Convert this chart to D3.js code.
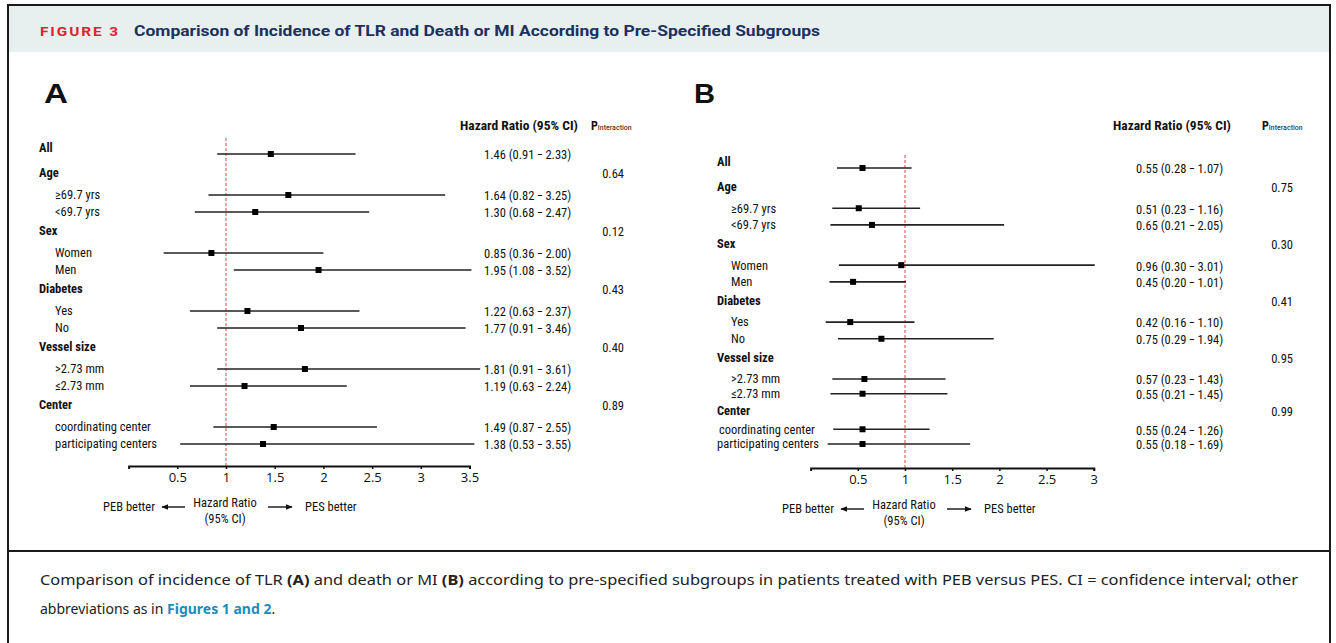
<!DOCTYPE html>
<html>
<head>
<meta charset="utf-8">
<script src="https://cdn.jsdelivr.net/npm/d3@7"></script>
<style>
  body { margin: 0; background: #fff; }
  svg { display: block; }
  .lbl { font-family: "Liberation Sans Narrow", "Roboto Condensed", "Open Sans", sans-serif; font-size: 12.5px; fill: #111; }
  .grp { font-weight: bold; }
  .est, .pv { font-size: 12.5px; }
  .hdr { font-size: 13.5px; font-weight: bold; }
  .axis text { font-family: "Liberation Sans Narrow", "Open Sans", sans-serif; font-size: 13px; fill: #111; }
</style>
</head>
<body>
<div id="chart"></div>
<script>
// Subgroup rows (same for both panels)
const rowLabels = ['All', 'Age', '\u226569.7 yrs', '<69.7 yrs', 'Sex', 'Women', 'Men', 'Diabetes', 'Yes', 'No',
  'Vessel size', '>2.73 mm', '\u22642.73 mm', 'Center', 'coordinating center', 'participating centers']
const rowIsGroup = [1, 1, 0, 0, 1, 0, 0, 1, 0, 0, 1, 0, 0, 1, 0, 0]

// Panel A: TLR
const hrA = [1.46, null, 1.64, 1.30, null, 0.85, 1.95, null, 1.22, 1.77, null, 1.81, 1.19, null, 1.49, 1.38]
const loA = [0.91, null, 0.82, 0.68, null, 0.36, 1.08, null, 0.63, 0.91, null, 0.91, 0.63, null, 0.87, 0.53]
const hiA = [2.33, null, 3.25, 2.47, null, 2.00, 3.52, null, 2.37, 3.46, null, 3.61, 2.24, null, 2.55, 3.55]
const pA = ['0.64', '0.12', '0.43', '0.40', '0.89']
const ticksA = [0.5, 1, 1.5, 2, 2.5, 3, 3.5]

// Panel B: death or MI
const hrB = [0.55, null, 0.51, 0.65, null, 0.96, 0.45, null, 0.42, 0.75, null, 0.57, 0.55, null, 0.55, 0.55]
const loB = [0.28, null, 0.23, 0.21, null, 0.30, 0.20, null, 0.16, 0.29, null, 0.23, 0.21, null, 0.24, 0.18]
const hiB = [1.07, null, 1.16, 2.05, null, 3.01, 1.01, null, 1.10, 1.94, null, 1.43, 1.45, null, 1.26, 1.69]
const pB = ['0.75', '0.30', '0.41', '0.95', '0.99']
const ticksB = [0.5, 1, 1.5, 2, 2.5, 3]

const W = 1336, H = 643
const f2 = d3.format('.2f')

const svg = d3.select('#chart').append('svg')
  .attr('width', W)
  .attr('height', H)

// arrow head
svg.append('defs').append('marker')
  .attr('id', 'head')
  .attr('viewBox', '0 0 10 10')
  .attr('refX', 9).attr('refY', 5)
  .attr('markerWidth', 5).attr('markerHeight', 5)
  .attr('orient', 'auto')
  .append('path').attr('d', 'M0,1L10,5L0,9Z').attr('fill', '#111')

// header band + frame
svg.append('rect').attr('x', 9).attr('y', 6).attr('width', 1320).attr('height', 46).attr('fill', '#e7f0ef')
svg.append('path')
  .attr('d', 'M8,643V5H1330V643')
  .attr('fill', 'none').attr('stroke', '#1a1a1a').attr('stroke-width', 2)
svg.append('line').attr('x1', 8).attr('x2', 1330).attr('y1', 551).attr('y2', 551)
  .attr('stroke', '#1a1a1a').attr('stroke-width', 2)

svg.append('text')
  .attr('x', 40).attr('y', 36)
  .attr('font-family', 'Roboto, sans-serif').attr('font-weight', 'bold')
  .attr('font-size', 13).attr('letter-spacing', 1.6).attr('fill', '#e21f2c')
  .attr('textLength', 80).attr('lengthAdjust', 'spacingAndGlyphs')
  .text('FIGURE 3')
svg.append('text')
  .attr('x', 134).attr('y', 36)
  .attr('font-family', 'Roboto, sans-serif').attr('font-weight', 'bold')
  .attr('font-size', 14.5).attr('fill', '#1b3160')
  .attr('textLength', 686).attr('lengthAdjust', 'spacingAndGlyphs')
  .text('Comparison of Incidence of TLR and Death or MI According to Pre-Specified Subgroups')

// caption
const cap1 = svg.append('text')
  .attr('x', 40).attr('y', 585)
  .attr('font-family', '"Noto Sans", sans-serif').attr('font-size', 14).attr('fill', '#222')
  .attr('textLength', 1258).attr('lengthAdjust', 'spacingAndGlyphs')
cap1.append('tspan').text('Comparison of incidence of TLR ')
cap1.append('tspan').attr('font-weight', 'bold').text('(A)')
cap1.append('tspan').text(' and death or MI ')
cap1.append('tspan').attr('font-weight', 'bold').text('(B)')
cap1.append('tspan').text(' according to pre-specified subgroups in patients treated with PEB versus PES. CI = confidence interval; other')
const cap2 = svg.append('text')
  .attr('x', 40).attr('y', 614)
  .attr('font-family', '"Noto Sans", sans-serif').attr('font-size', 14).attr('fill', '#222')
cap2.append('tspan').text('abbreviations as in ')
cap2.append('tspan').attr('font-weight', 'bold').attr('fill', '#1e8bbd').text('Figures 1 and 2')
cap2.append('tspan').text('.')

// cumulative row units: gap after a group header 22, between subrows 17, before a header 19
const rowUnits = []
rowLabels.forEach((d, i) => {
  if (i === 0) { rowUnits.push(0); return }
  const gap = rowIsGroup[i] ? 19 : (rowIsGroup[i - 1] ? 22 : 17)
  rowUnits.push(rowUnits[i - 1] + gap)
})

const panels = [
  { letter: 'A', lx: 44, lw: 24, hr: hrA, lo: loA, hi: hiA, p: pA, ticks: ticksA, max: 3.5,
    xr: [128.6, 469.5], yr: [154, 369, 444], axisY: 466, refTop: 138,
    gx: 39, indent: [0, 0, 16, 16, 0, 16, 16, 0, 16, 16, 0, 16, 16, 0, 16, 16],
    estX: 484, pX: 624, hdrX: 460, pHdrX: 591 },
  { letter: 'B', lx: 694, lw: 21, hr: hrB, lo: loB, hi: hiB, p: pB, ticks: ticksB, max: 3,
    xr: [810.6, 1093.8], yr: [168, 379, 444], axisY: 468, refTop: 155,
    gx: 717, indent: [0, 0, 14, 14, 0, 14, 14, 0, 14, 14, 0, 14, 14, 0, 2, 0],
    estX: 1136, pX: 1293, hdrX: 1113, pHdrX: 1262 }
]

panels.forEach(pn => {
  const g = svg.append('g')
  const x = d3.scaleLinear().domain([0, pn.max]).range(pn.xr)
  const y = d3.scaleLinear().domain([0, rowUnits[11], rowUnits[15]]).range(pn.yr)

  const rows = rowLabels.map((label, i) => ({
    label, i, group: rowIsGroup[i], hr: pn.hr[i], lo: pn.lo[i], hi: pn.hi[i], y: y(rowUnits[i])
  }))
  const groupRows = rows.filter(d => d.group && d.hr == null)

  // panel letter
  g.append('text').attr('x', pn.lx).attr('y', 103)
    .attr('font-family', '"Liberation Sans", Arial, sans-serif').attr('font-weight', 'bold')
    .attr('font-size', 27).attr('fill', '#111')
    .attr('textLength', pn.lw).attr('lengthAdjust', 'spacingAndGlyphs')
    .text(pn.letter)

  // column headers
  g.append('text').attr('class', 'lbl hdr').attr('x', pn.hdrX).attr('y', 130)
    .text('Hazard Ratio (95% CI)')
  const ph = g.append('text').attr('class', 'lbl grp').attr('x', pn.pHdrX).attr('y', 130)
  ph.append('tspan').attr('font-size', 12).text('P')
  ph.append('tspan').attr('font-size', 8).attr('font-weight', 'normal').text('Interaction')

  // row labels
  g.selectAll('text.row').data(rows).join('text')
    .attr('class', d => 'lbl row' + (d.group ? ' grp' : ''))
    .attr('x', d => pn.gx + pn.indent[d.i])
    .attr('y', d => d.y + (d.group && d.hr != null ? -6 : 0))
    .attr('dy', '0.35em')
    .text(d => d.label)

  // reference line at HR = 1
  g.append('line')
    .attr('x1', x(1)).attr('x2', x(1))
    .attr('y1', pn.refTop).attr('y2', pn.axisY)
    .attr('stroke', '#e2443c').attr('stroke-width', 1).attr('stroke-dasharray', '3,2')

  const est = rows.filter(d => d.hr != null)
  g.selectAll('line.ci').data(est).join('line')
    .attr('class', 'ci')
    .attr('x1', d => x(d.lo)).attr('x2', d => x(d.hi))
    .attr('y1', d => d.y).attr('y2', d => d.y)
    .attr('stroke', '#222').attr('stroke-width', 1.7)
  g.selectAll('rect.pt').data(est).join('rect')
    .attr('class', 'pt')
    .attr('x', d => x(d.hr) - 3).attr('y', d => d.y - 3)
    .attr('width', 6).attr('height', 6).attr('fill', '#000')

  g.selectAll('text.est').data(est).join('text')
    .attr('class', 'lbl est')
    .attr('x', pn.estX).attr('y', d => d.y + 1).attr('dy', '0.35em')
    .text(d => `${f2(d.hr)} (${f2(d.lo)}\u2009\u2212\u2009${f2(d.hi)})`)

  g.selectAll('text.pv').data(groupRows).join('text')
    .attr('class', 'lbl pv')
    .attr('x', pn.pX).attr('y', d => d.y + 1).attr('dy', '0.35em')
    .attr('text-anchor', 'end')
    .text((d, k) => pn.p[k])

  // axis
  const ax = g.append('g').attr('class', 'axis')
    .attr('transform', `translate(0,${pn.axisY})`)
    .call(d3.axisBottom(x).tickValues(pn.ticks).tickFormat(d => String(d)).tickSize(3).tickPadding(4))
  ax.select('.domain').attr('stroke', '#111').attr('stroke-width', 2)
  ax.selectAll('.tick line').attr('stroke', '#111').attr('stroke-width', 1.5)

  // direction legend below axis
  const cx = x(1) - 1
  const ly = pn.axisY + 41
  g.append('text').attr('class', 'lbl').attr('x', cx).attr('y', pn.axisY + 40.5)
    .attr('text-anchor', 'middle').text('Hazard Ratio')
  g.append('text').attr('class', 'lbl').attr('x', cx).attr('y', pn.axisY + 56.5)
    .attr('text-anchor', 'middle').text('(95% CI)')
  g.append('line').attr('x1', cx - 40).attr('x2', cx - 63).attr('y1', ly).attr('y2', ly)
    .attr('stroke', '#111').attr('stroke-width', 1.4).attr('marker-end', 'url(#head)')
  g.append('line').attr('x1', cx + 43).attr('x2', cx + 67).attr('y1', ly).attr('y2', ly)
    .attr('stroke', '#111').attr('stroke-width', 1.4).attr('marker-end', 'url(#head)')
  g.append('text').attr('class', 'lbl').attr('x', cx - 70).attr('y', ly).attr('dy', '0.35em')
    .attr('text-anchor', 'end').text('PEB better')
  g.append('text').attr('class', 'lbl').attr('x', cx + 80).attr('y', ly).attr('dy', '0.35em')
    .text('PES better')
})
</script>
</body>
</html>
